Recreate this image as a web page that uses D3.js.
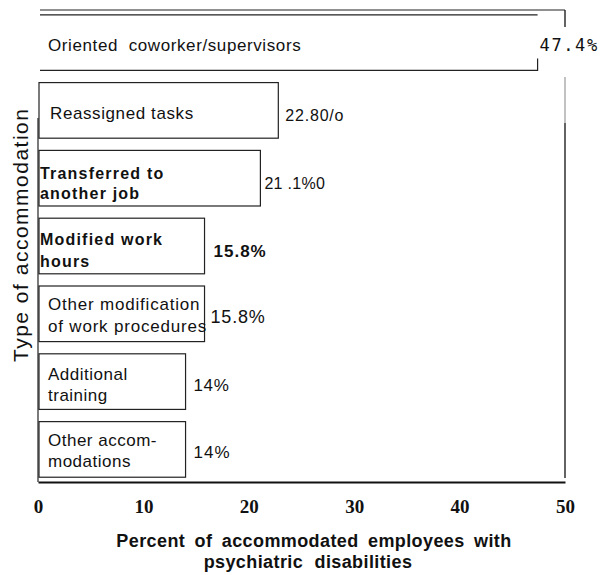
<!DOCTYPE html>
<html>
<head>
<meta charset="utf-8">
<script src="https://cdn.jsdelivr.net/npm/d3@7"></script>
<style>
  body { margin: 0; background: #fff; }
  text { fill: #111; white-space: pre; }
</style>
</head>
<body>
<svg id="chart"></svg>
<script>
// data
var categories = [
  ["Oriented  coworker/supervisors"],
  ["Reassigned tasks"],
  ["Transferred to", "another job"],
  ["Modified work", "hours"],
  ["Other modification", "of work procedures"],
  ["Additional", "training"],
  ["Other accom-", "modations"]
];
var values = [47.4, 22.8, 21.1, 15.8, 15.8, 14, 14];
var valueLabels = ["47.4%", "22.80/o", "21 .1%0", "15.8%", "15.8%", "14%", "14%"];
var ticks = [0, 10, 20, 30, 40, 50];

var width = 600, height = 575;
var svg = d3.select('#chart').attr('width', width).attr('height', height);

var sans = "Liberation Sans, Arial, sans-serif";

var x = d3.scaleLinear().domain([0, 50]).range([38, 565]);
var y = d3.scaleBand()
  .domain(d3.range(categories.length))
  .range([8, 484])
  .paddingInner(0.18)
  .paddingOuter(0.1);

// frame: top and right (right side broken where the top value label sits)
svg.append("line")
  .attr("x1", x(0) + 2).attr("x2", x(50))
  .attr("y1", 10).attr("y2", 10)
  .attr("stroke", "#222").attr("stroke-width", 1.2);
svg.append("line")
  .attr("x1", x(50)).attr("x2", x(50))
  .attr("y1", 10).attr("y2", 27)
  .attr("stroke", "#222").attr("stroke-width", 1.4);
svg.append("line")
  .attr("x1", x(50)).attr("x2", x(50))
  .attr("y1", 77).attr("y2", 123)
  .attr("stroke", "#999").attr("stroke-width", 1.2);
svg.append("line")
  .attr("x1", x(50)).attr("x2", x(50))
  .attr("y1", 123).attr("y2", 478)
  .attr("stroke", "#222").attr("stroke-width", 1.4);

// bars
svg.append("g")
  .selectAll("rect")
  .data(values)
  .enter()
  .append("rect")
  .attr("x", x(0) + 1)
  .attr("y", (d, i) => y(i))
  .attr("width", d => x(d) - x(0) - 1)
  .attr("height", y.bandwidth())
  .attr("fill", "white")
  .attr("stroke", (d, i) => i === 0 ? "none" : "#222")
  .attr("stroke-width", 1.2);

// top bar drawn as open outline
var b0 = y(0), b0h = y.bandwidth();
svg.append("path")
  .attr("d", "M" + (x(0) + 2) + "," + b0 + "H" + x(values[0]) +
             "M" + (x(0) + 2) + "," + (b0 + b0h) + "H" + x(values[0]) +
             "V" + (b0 + b0h - 12))
  .attr("fill", "none")
  .attr("stroke", "#222")
  .attr("stroke-width", 1.2);

// category labels inside bars
var labelStyle = [
  {dx: 10, size: 17, weight: "normal", lh: 0, ls: 0.6, shift: 2},
  {dx: 12, size: 17, weight: "normal", lh: 0, ls: 0.6, shift: 3},
  {dx: 2, size: 16, weight: "bold", lh: 20, ls: 1.2, shift: 5},
  {dx: 2, size: 16, weight: "bold", lh: 22, ls: 1.2, shift: 4},
  {dx: 10, size: 17, weight: "normal", lh: 22, ls: 0.8, shift: 1},
  {dx: 10, size: 17, weight: "normal", lh: 21, ls: 0.5, shift: 3},
  {dx: 10, size: 17, weight: "normal", lh: 21, ls: 0.5, shift: 1}
];

categories.forEach(function (lines, i) {
  var st = labelStyle[i];
  var cy = y(i) + y.bandwidth() / 2 + st.shift;
  var t = svg.append("text")
    .attr("font-family", sans)
    .attr("font-size", st.size)
    .attr("font-weight", st.weight)
    .attr("letter-spacing", st.ls);
  lines.forEach(function (l, j) {
    t.append("tspan")
      .attr("x", x(0) + st.dx)
      .attr("y", cy + (j - (lines.length - 1) / 2) * st.lh + st.size * 0.35)
      .text(l);
  });
});

// value labels
var valStyle = [
  {dx: 2, dy: 2, size: 17, weight: "normal", ls: 1.6, font: "DejaVu Sans Mono, monospace"},
  {dx: 7, dy: 5, size: 16, weight: "normal", ls: 0.8, font: sans},
  {dx: 4, dy: 5, size: 16, weight: "normal", ls: 0.3, font: sans},
  {dx: 9, dy: 5, size: 17, weight: "bold", ls: 1, font: sans},
  {dx: 6, dy: 3, size: 18, weight: "normal", ls: 0.8, font: sans},
  {dx: 8, dy: 3, size: 17, weight: "normal", ls: 0.6, font: sans},
  {dx: 8, dy: 3, size: 17, weight: "normal", ls: 1, font: sans}
];
svg.append("g")
  .selectAll("text")
  .data(values)
  .enter()
  .append("text")
  .attr("x", (d, i) => x(d) + valStyle[i].dx)
  .attr("y", (d, i) => y(i) + y.bandwidth() / 2 + valStyle[i].dy + valStyle[i].size * 0.35)
  .attr("font-family", (d, i) => valStyle[i].font)
  .attr("font-size", (d, i) => valStyle[i].size)
  .attr("font-weight", (d, i) => valStyle[i].weight)
  .attr("letter-spacing", (d, i) => valStyle[i].ls)
  .text((d, i) => valueLabels[i]);

// x axis
var xAxis = svg.append("g")
  .attr("transform", "translate(0,482)")
  .call(d3.axisBottom(x).tickValues(ticks).tickSize(0).tickPadding(18));
xAxis.select(".domain").attr("stroke", "#111").attr("stroke-width", 2);
xAxis.selectAll("text")
  .attr("font-family", "Liberation Serif, DejaVu Serif, serif")
  .attr("font-weight", "bold")
  .attr("font-size", 19)
  .attr("fill", "#111");

// left axis line
svg.append("line")
  .attr("x1", x(0)).attr("x2", x(0))
  .attr("y1", 118).attr("y2", 482)
  .attr("stroke", "#222").attr("stroke-width", 1.2);

// axis titles
svg.append("text")
  .attr("x", 314).attr("y", 547)
  .attr("text-anchor", "middle")
  .attr("font-family", sans)
  .attr("font-weight", "bold")
  .attr("font-size", 18)
  .attr("letter-spacing", 0.4)
  .attr("word-spacing", 4)
  .text("Percent of accommodated employees with");
svg.append("text")
  .attr("x", 308).attr("y", 568)
  .attr("text-anchor", "middle")
  .attr("font-family", sans)
  .attr("font-weight", "bold")
  .attr("font-size", 18)
  .attr("letter-spacing", 0.4)
  .attr("word-spacing", 6)
  .text("psychiatric disabilities");

svg.append("text")
  .attr("transform", "translate(28,362) rotate(-90)")
  .attr("font-family", sans)
  .attr("font-size", 21)
  .attr("letter-spacing", 1.5)
  .text("Type of accommodation");
</script>
</body>
</html>
